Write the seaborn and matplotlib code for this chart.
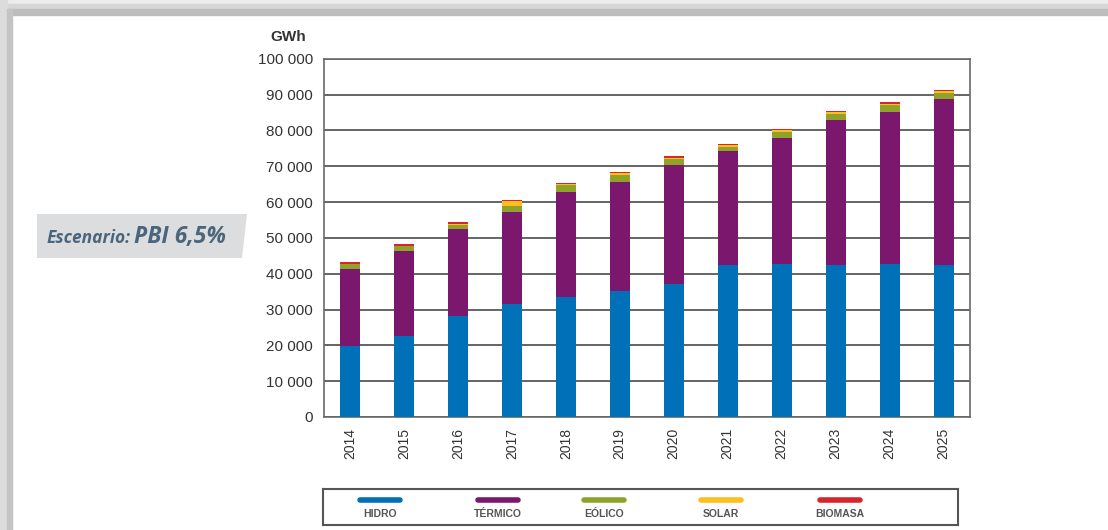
import matplotlib
matplotlib.use('Agg')
import matplotlib.pyplot as plt
from matplotlib.patches import Polygon, Rectangle
from matplotlib.lines import Line2D
import numpy as np
import pandas as pd
import seaborn as sns

# Data (GWh)
years = ['2014', '2015', '2016', '2017', '2018', '2019',
         '2020', '2021', '2022', '2023', '2024', '2025']
hidro = [19800, 22700, 28200, 31600, 33500, 35200, 37200, 42500, 42800, 42500, 42800, 42500]
termico = [21500, 23500, 24300, 25700, 29400, 30500, 33000, 31600, 35200, 40300, 42400, 46300]
eolico = [1300, 1400, 1200, 1500, 1800, 1800, 1900, 1300, 1600, 1900, 1900, 1700]
solar = [200, 150, 200, 1400, 300, 600, 300, 400, 400, 300, 300, 400]
biomasa = [400, 400, 400, 400, 400, 400, 400, 400, 400, 400, 400, 400]

sources = ['HIDRO', 'TÉRMICO', 'EÓLICO', 'SOLAR', 'BIOMASA']
colors = ['#0070B8', '#7B176C', '#8FA32A', '#FDBE1E', '#D7262B']
y_ticks = list(range(0, 100001, 10000))

df = pd.DataFrame({'year': years, 'HIDRO': hidro, 'TÉRMICO': termico,
                   'EÓLICO': eolico, 'SOLAR': solar, 'BIOMASA': biomasa})
cum = df[sources].cumsum(axis=1)

sns.set_style('white')
plt.rcParams['font.family'] = ['Liberation Sans', 'DejaVu Sans']

W, H = 1108, 530
fig = plt.figure(figsize=(W / 100, H / 100), dpi=100)

def fx(px):
    return px / W

def fy(py):
    return 1 - py / H

# page border (screenshot frame)
for (x0, y0, w, h, c) in [(0, 0, W, 4, '#ECECEC'), (0, 4, W, 5, '#D6D6D6'),
                          (0, 9, W, 6, '#BDBDBD'), (0, 0, 7, H, '#DCDCDC'),
                          (7, 9, 5, H, '#C4C4C4')]:
    fig.patches.append(Rectangle((fx(x0), fy(y0 + h)), w / W, h / H,
                                 transform=fig.transFigure, color=c, zorder=0))

ax = fig.add_axes([fx(324), fy(417), fx(970) - fx(324), fy(58.7) - fy(417)])

# stacked bars: draw cumulative totals from top layer down
for i in range(len(sources) - 1, -1, -1):
    sns.barplot(x=df['year'], y=cum[sources[i]], color=colors[i], ax=ax,
                width=0.37, saturation=1, linewidth=0, errorbar=None, zorder=3)

ax.set_xlim(-0.48, 11.49)
ax.set_ylim(0, 100000)
ax.set_yticks(y_ticks)
ax.set_yticklabels([f'{v:,}'.replace(',', ' ') for v in y_ticks])
ax.set_xlabel('')
ax.set_ylabel('')
ax.grid(axis='y', color='#4a4a4a', linewidth=1.2, zorder=1)
ax.set_axisbelow(True)
for s in ax.spines.values():
    s.set_color('#6a6a6a')
    s.set_linewidth(1.2)
ax.tick_params(axis='y', length=0, pad=8, labelsize=11, labelcolor='#333333')
ax.tick_params(axis='x', length=0, pad=8, labelsize=10, labelcolor='#333333',
               labelrotation=90)
fig.text(fx(306), fy(37), 'GWh', fontsize=11, fontweight='bold', color='#333333',
         ha='right', va='center')

# scenario label
fig.patches.append(Polygon([(fx(37), fy(214)), (fx(247), fy(214)),
                            (fx(242), fy(258)), (fx(37), fy(258))],
                           closed=True, transform=fig.transFigure,
                           facecolor='#DCDDDF', edgecolor='none', zorder=1))
fig.text(fx(47), fy(243), 'Escenario:', fontsize=12.5, fontweight='bold',
         style='italic', color='#4B667C', family=['Open Sans', 'DejaVu Sans'],
         va='baseline')
fig.text(fx(134), fy(243), 'PBI 6,5%', fontsize=16.5, fontweight='bold',
         style='italic', color='#4B667C', family=['Open Sans', 'DejaVu Sans'],
         va='baseline')

# legend box
lax = fig.add_axes([fx(323), fy(525), fx(958) - fx(323), fy(489) - fy(525)])
lax.set_xlim(323, 958)
lax.set_ylim(525, 489)
lax.set_xticks([])
lax.set_yticks([])
for s in lax.spines.values():
    s.set_color('#555555')
    s.set_linewidth(1.5)
for name, c, cx in zip(sources, colors, [380, 498, 604, 721, 840]):
    lax.add_line(Line2D([cx - 20, cx + 20], [500, 500], color=c, linewidth=4,
                        solid_capstyle='round'))
    lax.text(cx, 514, name, ha='center', va='center', fontsize=7.5,
             fontweight='bold', color='#555555')

fig.savefig('out.png', dpi=100)
